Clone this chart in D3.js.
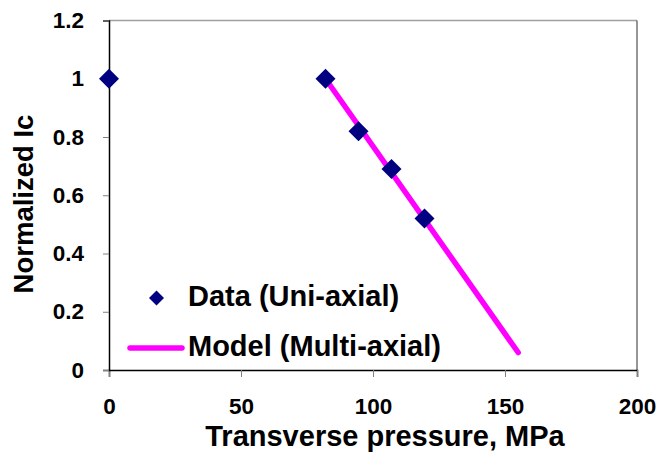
<!DOCTYPE html>
<html>
<head>
<meta charset="utf-8">
<script src="https://cdn.jsdelivr.net/npm/d3@7"></script>
<style>
  body { margin: 0; background: #fff; }
  text { font-family: Arial, "Liberation Sans", sans-serif; font-weight: bold; fill: #000; }
</style>
</head>
<body>
<div id="chart"></div>
<script>
// measured data (uni-axial) and model line (multi-axial)
const pressure = [0, 82, 94.5, 107, 119.5]
const icNorm = [1, 1, 0.82, 0.69, 0.52]
const modelPressure = [82, 155]
const modelIc = [1, 0.06]

const xTicks = [0, 50, 100, 150, 200]
const yTicks = [0, 0.2, 0.4, 0.6, 0.8, 1, 1.2]
const legendLabels = ["Data (Uni-axial)", "Model (Multi-axial)"]

const width = 658, height = 453
const margin = {top: 20.5, right: 21, bottom: 83, left: 109}

const svg = d3.select("#chart").append("svg")
    .attr("width", width)
    .attr("height", height)

const x = d3.scaleLinear().domain([0, 200]).range([margin.left, width - margin.right])
const y = d3.scaleLinear().domain([0, 1.2]).range([height - margin.bottom, margin.top])

// frame: top light grey, right dark grey
svg.append("line")
    .attr("x1", x(0)).attr("x2", x(200))
    .attr("y1", y(1.2)).attr("y2", y(1.2))
    .style("stroke", "#a0a0a0").style("stroke-width", 1.5)
svg.append("line")
    .attr("x1", x(200)).attr("x2", x(200))
    .attr("y1", y(1.2)).attr("y2", y(0))
    .style("stroke", "#505050").style("stroke-width", 1.2)

// axes
const xAxis = svg.append("g")
    .attr("transform", `translate(0,${y(0)})`)
    .call(d3.axisBottom(x).tickValues(xTicks).tickSize(7).tickPadding(21).tickFormat(d3.format("d")))
const yAxis = svg.append("g")
    .attr("transform", `translate(${x(0)},0)`)
    .call(d3.axisLeft(y).tickValues(yTicks).tickSize(6).tickPadding(19).tickFormat(d => String(d)))

for (const g of [xAxis, yAxis]) {
    g.select(".domain").style("stroke", "#000").style("stroke-width", 1.5)
    g.selectAll(".tick line").style("stroke", "#808080")
    g.selectAll(".tick text").style("font-size", "22.5px").style("font-family", "Arial, 'Liberation Sans', sans-serif").style("font-weight", "bold")
}

// axis titles
svg.append("text")
    .attr("x", 385)
    .attr("y", 446)
    .attr("text-anchor", "middle")
    .style("font-size", "29px")
    .text("Transverse pressure, MPa")

svg.append("text")
    .attr("transform", "translate(33,204) rotate(-90)")
    .attr("text-anchor", "middle")
    .style("font-size", "27.5px")
    .text("Normalized Ic")

// model line
const lineData = modelPressure.map((p, i) => [p, modelIc[i]])
svg.append("path")
    .datum(lineData)
    .attr("d", d3.line().x(d => x(d[0])).y(d => y(d[1])))
    .style("fill", "none")
    .style("stroke", "#ff00ff")
    .style("stroke-width", 5.5)
    .style("stroke-linecap", "round")

// data diamonds
function diamond(r) {
    return `M0,${-r}L${r},0L0,${r}L${-r},0Z`
}
svg.selectAll(".pt")
    .data(pressure.map((p, i) => [p, icNorm[i]]))
    .join("path")
    .attr("class", "pt")
    .attr("transform", d => `translate(${x(d[0])},${y(d[1])})`)
    .attr("d", diamond(10))
    .style("fill", "#000080")

// legend
const legend = svg.append("g")
legend.append("path")
    .attr("transform", "translate(156.5,298)")
    .attr("d", diamond(7.5))
    .style("fill", "#000080")
legend.append("line")
    .attr("x1", 130).attr("x2", 182)
    .attr("y1", 348).attr("y2", 348)
    .style("stroke", "#ff00ff")
    .style("stroke-width", 5.5)
    .style("stroke-linecap", "round")
legend.selectAll(".lab")
    .data(legendLabels)
    .join("text")
    .attr("class", "lab")
    .attr("x", 188)
    .attr("y", (d, i) => 306 + i * 50)
    .style("font-size", "29px")
    .text(d => d)
</script>
</body>
</html>
